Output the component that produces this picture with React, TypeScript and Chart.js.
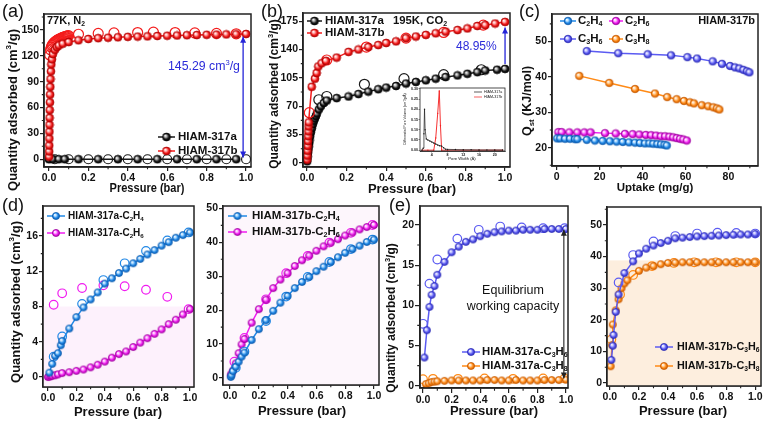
import React, { useEffect, useRef } from "react";
import { Chart, registerables } from "chart.js";
Chart.register(...registerables);

const FONT = '"Liberation Sans", Arial, Helvetica, sans-serif';

// ---------------- tick labels ----------------
const pressureTicks = [0, 0.2, 0.4, 0.6, 0.8, 1.0];
const aYTicks = [0, 30, 60, 90, 120, 150];
const bYTicks = [0, 35, 70, 105, 140, 175];
const cXTicks = [0, 20, 40, 60, 80];
const cYTicks = [20, 30, 40, 50];
const dLYTicks = [0, 4, 8, 12, 16];
const dRYTicks = [0, 10, 20, 30, 40, 50];
const eLYTicks = [0, 5, 10, 15, 20];
const eRYTicks = [0, 10, 20, 30, 40, 50];
const insetXTicks = [4, 8, 12, 16, 20];
const insetYTicks = [0, 0.05, 0.1, 0.15, 0.2, 0.25, 0.3];

// ---------------- (a) 77K N2 ----------------
const aBAdsX = [0.0005, 0.001, 0.0015, 0.002, 0.0025, 0.003, 0.0035, 0.004, 0.005, 0.006, 0.007, 0.008, 0.01, 0.012, 0.015, 0.02, 0.03, 0.04, 0.05, 0.07, 0.1, 0.15, 0.2, 0.25, 0.3, 0.35, 0.4, 0.45, 0.5, 0.55, 0.6, 0.65, 0.7, 0.75, 0.8, 0.85, 0.9, 0.95, 1.0];
const aBAdsY = [3, 9, 16, 24, 32, 40, 48, 57, 66, 75, 84, 93, 102, 110, 116, 122, 127, 130, 132, 134, 136, 138, 139.5, 140.5, 141, 141.5, 142, 142.3, 142.6, 143, 143.3, 143.6, 143.9, 144.1, 144.4, 144.6, 144.8, 145, 145.3];
const aBDesX = [0.004, 0.008, 0.012, 0.016, 0.02, 0.025, 0.03, 0.035, 0.04, 0.045, 0.05, 0.055, 0.06, 0.065, 0.07, 0.075, 0.08, 0.085, 0.09, 0.095, 0.1, 0.15, 0.25, 0.33, 0.45, 0.53, 0.64, 0.74, 0.85, 0.95];
const aBDesY = [121, 127, 130, 132, 133.5, 135, 136, 137, 137.8, 138.5, 139.2, 139.8, 140.3, 140.8, 141.3, 141.7, 142.1, 142.5, 142.8, 143.1, 143.4, 145, 146, 146.5, 147, 147.5, 147, 146.5, 146, 145.5];
const aAAdsX = [0, 0.02, 0.05, 0.08, 0.15, 0.25, 0.35, 0.45, 0.55, 0.65, 0.75, 0.85, 0.95];
const aAAdsY = [0, 0, 0, 0, 0, 0, 0, 0, 0, 0, 0, 0, 0];
const aADesX = [0.03, 0.1, 0.2, 0.3, 0.4, 0.5, 0.6, 0.7, 0.8, 0.9, 1.0];
const aADesY = [0, 0, 0, 0, 0, 0, 0, 0, 0, 0, 0];

// ---------------- (b) 195K CO2 ----------------
const bBAdsX = [0.001, 0.002, 0.003, 0.004, 0.005, 0.006, 0.007, 0.008, 0.009, 0.024, 0.04, 0.049, 0.057, 0.074, 0.096, 0.15, 0.21, 0.26, 0.31, 0.36, 0.4, 0.45, 0.5, 0.55, 0.6, 0.65, 0.7, 0.76, 0.81, 0.86, 0.9, 0.95, 1.0];
const bBAdsY = [4, 9, 15, 21, 27, 33, 39, 45, 50, 94, 104, 111, 119, 123, 126, 130, 137, 140, 143, 145.5, 148, 150, 154, 156, 158, 160, 162, 164, 166, 169, 170, 172, 174];
const bBDesX = [0.012, 0.1, 0.3, 0.5, 0.69, 0.89];
const bBDesY = [62, 127, 143, 154, 161, 170];
const bAAdsX = [0.001, 0.002, 0.003, 0.005, 0.007, 0.009, 0.011, 0.013, 0.016, 0.02, 0.025, 0.03, 0.035, 0.04, 0.045, 0.05, 0.06, 0.07, 0.085, 0.1, 0.15, 0.21, 0.26, 0.31, 0.36, 0.4, 0.45, 0.5, 0.55, 0.6, 0.65, 0.7, 0.76, 0.81, 0.86, 0.9, 0.96, 1.0];
const bAAdsY = [2, 5, 8, 12, 16, 20, 24, 28, 33, 38, 43, 48, 52, 55, 58, 61, 66, 70, 74, 77, 80, 82, 85, 88, 91, 93, 95, 98, 100, 102, 104, 106, 108, 110, 112, 114, 115, 116];
const bADesX = [0.06, 0.1, 0.29, 0.49, 0.69, 0.88];
const bADesY = [78, 82, 97, 104, 109, 115];
// inset pore size distribution
const insAX = [1.5, 1.8, 2.0, 2.15, 2.3, 2.6, 3.0, 3.5, 4.0, 4.5, 5.0, 5.5, 6.0, 6.5, 7.0, 7.5, 8.0, 10, 12, 14, 16, 18, 20, 22];
const insAY = [0.0, 0.01, 0.08, 0.2, 0.1, 0.055, 0.05, 0.045, 0.04, 0.035, 0.03, 0.025, 0.022, 0.02, 0.012, 0.005, 0.004, 0.003, 0.002, 0.002, 0.001, 0.001, 0.001, 0.001];
const insBX = [1.5, 3.0, 4.5, 5.0, 5.5, 5.9, 6.2, 6.5, 8.0, 12, 16, 20, 22];
const insBY = [0, 0, 0, 0.06, 0.18, 0.29, 0.12, 0, 0, 0, 0, 0, 0];

// ---------------- (c) Qst ----------------
const cC2H4X = [0.2, 1.6, 3.9, 6.2, 8.5, 9.6, 14.0, 17.8, 21.4, 24.8, 27.9, 30.8, 33.7, 36.5, 38.8, 41.1, 43.2, 45.0, 46.9, 48.6, 50.2, 51.3];
const cC2H4Y = [22.6, 22.6, 22.5, 22.5, 22.4, 22.4, 22.2, 22.0, 21.9, 21.8, 21.7, 21.6, 21.5, 21.4, 21.3, 21.2, 21.2, 21.1, 21.0, 20.9, 20.8, 20.6];
const cC2H6X = [0.8, 2.3, 5.9, 9.6, 12.9, 15.8, 22.5, 27.5, 31.8, 35.4, 38.5, 41.5, 44.0, 46.3, 48.5, 50.5, 52.5, 54.3, 55.9, 57.5, 59.0, 60.6];
const cC2H6Y = [24.4, 24.4, 24.3, 24.3, 24.3, 24.3, 24.1, 24.0, 23.9, 23.8, 23.7, 23.6, 23.5, 23.4, 23.2, 23.2, 23.1, 22.9, 22.7, 22.5, 22.3, 22.0];
const cC3H6X = [14.0, 28.7, 42.4, 53.3, 60.9, 65.4, 72.7, 77.0, 80.8, 83.1, 85.1, 87.0, 88.6, 89.8];
const cC3H6Y = [47.3, 46.7, 46.4, 46.1, 45.6, 45.2, 44.4, 43.7, 43.1, 42.7, 42.4, 42.0, 41.6, 41.3];
const cC3H8X = [10.5, 24.5, 36.5, 45.8, 51.5, 55.9, 59.3, 62.1, 64.0, 67.6, 70.6, 73.0, 74.6, 75.8];
const cC3H8Y = [40.3, 38.3, 36.6, 35.3, 34.3, 33.7, 33.2, 32.8, 32.5, 32.0, 31.7, 31.4, 31.1, 30.8];

// ---------------- (d) HIAM-317a / 317b C2 ----------------
const dLC2H4X = [0.01, 0.03, 0.05, 0.07, 0.09, 0.1, 0.15, 0.2, 0.25, 0.3, 0.35, 0.4, 0.45, 0.5, 0.55, 0.6, 0.65, 0.7, 0.75, 0.8, 0.85, 0.9, 0.95, 1.0];
const dLC2H4Y = [0.5, 1.5, 2.4, 2.7, 3.6, 4.1, 5.5, 6.8, 7.9, 8.8, 9.6, 10.6, 11.2, 11.8, 12.3, 12.9, 13.4, 13.9, 14.4, 14.9, 15.3, 15.8, 16.1, 16.4];
const dLC2H4DesX = [0.04, 0.1, 0.24, 0.39, 0.54, 0.69, 0.84, 0.99];
const dLC2H4DesY = [2.3, 4.6, 8.3, 11.0, 12.9, 14.3, 15.5, 16.4];
const dLC2H6X = [0.0, 0.01, 0.02, 0.03, 0.05, 0.07, 0.1, 0.15, 0.2, 0.25, 0.3, 0.35, 0.4, 0.45, 0.5, 0.55, 0.6, 0.65, 0.7, 0.75, 0.8, 0.85, 0.9, 0.95, 1.0];
const dLC2H6Y = [0, 0.05, 0.1, 0.15, 0.2, 0.3, 0.45, 0.55, 0.7, 0.85, 1.1, 1.4, 1.75, 2.2, 2.6, 2.9, 3.4, 3.9, 4.4, 4.9, 5.4, 6.0, 6.5, 7.1, 7.7];
const dLC2H6DesX = [0.04, 0.1, 0.24, 0.39, 0.54, 0.69, 0.84, 0.99];
const dLC2H6DesY = [8.2, 9.5, 10.1, 10.4, 10.3, 9.9, 9.1, 7.7];

const dRC2H4X = [0.005, 0.01, 0.02, 0.04, 0.06, 0.08, 0.1, 0.15, 0.2, 0.25, 0.3, 0.35, 0.4, 0.45, 0.5, 0.55, 0.6, 0.65, 0.7, 0.75, 0.8, 0.85, 0.9, 0.95, 1.0];
const dRC2H4Y = [0.3, 0.8, 2, 3.3, 4.8, 6.3, 7.5, 11.2, 14.4, 17, 19.8, 22.2, 24.2, 26.5, 28.3, 29.8, 31.5, 32.8, 34.2, 35.6, 36.9, 38, 39, 40.1, 40.8];
const dRC2H4DesX = [0.04, 0.1, 0.25, 0.39, 0.54, 0.69, 0.84, 0.99];
const dRC2H4DesY = [3.0, 7.8, 16.8, 24, 29.8, 34.2, 38, 40.8];
const dRC2H6X = [0.005, 0.01, 0.02, 0.04, 0.06, 0.08, 0.1, 0.15, 0.2, 0.25, 0.3, 0.35, 0.4, 0.45, 0.5, 0.55, 0.6, 0.65, 0.7, 0.75, 0.8, 0.85, 0.9, 0.95, 1.0];
const dRC2H6Y = [0.8, 1.3, 2.2, 4.3, 7.3, 9.9, 11.5, 16.3, 20.3, 23.1, 26.5, 29.0, 30.9, 33.0, 34.7, 36.1, 37.5, 38.8, 39.9, 40.9, 42.0, 42.9, 43.8, 44.5, 45.1];
const dRC2H6DesX = [0.03, 0.1, 0.25, 0.39, 0.54, 0.69, 0.84, 0.99];
const dRC2H6DesY = [4.8, 11.8, 23.2, 30.9, 36.0, 39.9, 42.8, 45.1];

// ---------------- (e) C3 ----------------
const eLC3H6X = [0.01, 0.027, 0.045, 0.06, 0.08, 0.1, 0.15, 0.2, 0.25, 0.3, 0.35, 0.4, 0.45, 0.5, 0.55, 0.6, 0.65, 0.7, 0.75, 0.8, 0.85, 0.9, 0.95, 1.0];
const eLC3H6Y = [3.5, 6.9, 9.8, 11.3, 12.4, 13.8, 15.4, 16.6, 17.3, 17.9, 18.2, 18.6, 18.9, 19.1, 19.2, 19.3, 19.3, 19.4, 19.4, 19.4, 19.5, 19.5, 19.5, 19.5];
const eLC3H6DesX = [0.0, 0.045, 0.1, 0.24, 0.39, 0.54, 0.69, 0.84, 0.99];
const eLC3H6DesY = [7.7, 12.7, 15.7, 18.3, 19.4, 19.8, 19.7, 19.6, 19.6];
const eLC3H8X = [0.02, 0.04, 0.06, 0.08, 0.1, 0.15, 0.2, 0.25, 0.3, 0.35, 0.4, 0.45, 0.5, 0.55, 0.6, 0.65, 0.7, 0.75, 0.8, 0.85, 0.9, 0.95, 1.0];
const eLC3H8Y = [0.2, 0.3, 0.45, 0.5, 0.55, 0.6, 0.65, 0.65, 0.65, 0.65, 0.65, 0.7, 0.7, 0.65, 0.65, 0.7, 0.65, 0.65, 0.65, 0.7, 0.7, 0.7, 0.75];
const eLC3H8DesX = [0.0, 0.07, 0.245, 0.43, 0.63, 0.84, 0.99];
const eLC3H8DesY = [0.8, 0.85, 0.85, 0.9, 0.85, 0.9, 0.9];

const eRC3H6X = [0.01, 0.02, 0.025, 0.04, 0.06, 0.1, 0.16, 0.2, 0.25, 0.3, 0.35, 0.4, 0.45, 0.5, 0.55, 0.6, 0.65, 0.7, 0.75, 0.8, 0.85, 0.9, 0.95, 1.0];
const eRC3H6Y = [7.3, 11.8, 15.2, 22.5, 28, 34.8, 38.5, 41, 42.5, 43.5, 44.3, 45, 45.8, 46, 46.2, 46.4, 46.5, 46.6, 46.7, 46.8, 46.9, 47, 47, 47.2];
const eRC3H6DesX = [0.06, 0.16, 0.3, 0.45, 0.6, 0.74, 0.87, 1.0];
const eRC3H6DesY = [31.8, 40.5, 44.8, 46.5, 47.3, 47.6, 47.5, 47.3];
const eRC3H8X = [0.005, 0.015, 0.02, 0.04, 0.06, 0.08, 0.1, 0.12, 0.2, 0.25, 0.3, 0.35, 0.4, 0.45, 0.5, 0.55, 0.6, 0.65, 0.7, 0.75, 0.8, 0.85, 0.9, 0.95, 1.0];
const eRC3H8Y = [5.3, 12, 18.5, 23, 26.5, 30, 31.5, 32.5, 35.5, 36.5, 37, 37.6, 38, 38.1, 38.2, 38.2, 38.2, 38.2, 38.2, 38.2, 38.2, 38.2, 38.2, 38.2, 38.2];
const eRC3H8DesX = [0.01, 0.07, 0.16, 0.29, 0.44, 0.58, 0.73, 0.87, 1.0];
const eRC3H8DesY = [13.8, 28, 34.2, 37, 38, 38.2, 38.2, 38.2, 38.2];

// ---------------- styling helpers ----------------
const COL: any = {
  red: { m: "#f41c1c", l: "#ffb4b4", d: "#b00000" },
  blk: { m: "#1a1a1a", l: "#b0b0b0", d: "#000000" },
  blu: { m: "#2188e6", l: "#b0dcff", d: "#0b5cb0" },
  mag: { m: "#f01cf0", l: "#ffb8ff", d: "#a000a0" },
  pur: { m: "#5b5bf2", l: "#c8c8ff", d: "#2b2bb8" },
  ora: { m: "#ff8a16", l: "#ffd6a8", d: "#c85a00" },
};

const sphereCache: any = {};
function sphere(c: string, r: number) {
  const key = c + r;
  if (sphereCache[key]) return sphereCache[key];
  const col = COL[c];
  const s = Math.ceil(2 * r + 2);
  const cv = document.createElement("canvas");
  cv.width = s;
  cv.height = s;
  const g = cv.getContext("2d")!;
  const cx = s / 2, cy = s / 2;
  const grad = g.createRadialGradient(cx - r * 0.35, cy - r * 0.35, r * 0.05, cx, cy, r);
  grad.addColorStop(0, "#ffffff");
  grad.addColorStop(0.3, col.l);
  grad.addColorStop(0.65, col.m);
  grad.addColorStop(1, col.d);
  g.fillStyle = grad;
  g.beginPath();
  g.arc(cx, cy, r, 0, Math.PI * 2);
  g.fill();
  g.lineWidth = 0.7;
  g.strokeStyle = col.d;
  g.stroke();
  sphereCache[key] = cv;
  return cv;
}

function parseRich(str: string) {
  const segs: any[] = [];
  let i = 0, cur = "";
  while (i < str.length) {
    const ch = str[i];
    if (ch === "_" || ch === "^") {
      if (cur) { segs.push({ t: cur, k: 0 }); cur = ""; }
      let t = "";
      if (str[i + 1] === "{") { const j = str.indexOf("}", i + 2); t = str.slice(i + 2, j); i = j + 1; }
      else { t = str[i + 1]; i += 2; }
      segs.push({ t, k: ch === "_" ? 1 : 2 });
    } else { cur += ch; i++; }
  }
  if (cur) segs.push({ t: cur, k: 0 });
  return segs;
}

function drawRich(ctx: any, str: string, x: number, y: number, o: any) {
  const segs = parseRich(str);
  const f = (sz: number) => `${o.bold ? "bold " : ""}${sz}px ${FONT}`;
  const ss = o.size * 0.62;
  let w = 0;
  for (const s of segs) { ctx.font = f(s.k ? ss : o.size); w += ctx.measureText(s.t).width; }
  ctx.save();
  ctx.translate(x, y);
  if (o.rot) ctx.rotate(-Math.PI / 2);
  ctx.scale(o.sx || 1, 1);
  let cx = o.align === "center" ? -w / 2 : o.align === "right" ? -w : 0;
  ctx.fillStyle = o.color || "#111";
  ctx.textBaseline = "middle";
  ctx.textAlign = "left";
  for (const s of segs) {
    ctx.font = f(s.k ? ss : o.size);
    const dy = s.k === 1 ? o.size * 0.3 : s.k === 2 ? -o.size * 0.33 : 0;
    ctx.fillText(s.t, cx, dy);
    cx += ctx.measureText(s.t).width;
  }
  ctx.restore();
}

function arrowV(ctx: any, x: number, yFrom: number, yTo: number, color: string, both: boolean, lw = 1.3) {
  const hl = 6, hw = 3;
  ctx.save();
  ctx.strokeStyle = color;
  ctx.fillStyle = color;
  ctx.lineWidth = lw;
  ctx.beginPath();
  ctx.moveTo(x, yFrom);
  ctx.lineTo(x, yTo);
  ctx.stroke();
  const head = (yt: number, dir: number) => {
    ctx.beginPath();
    ctx.moveTo(x, yt);
    ctx.lineTo(x - hw, yt - dir * hl);
    ctx.lineTo(x + hw, yt - dir * hl);
    ctx.closePath();
    ctx.fill();
  };
  const dir = yTo < yFrom ? -1 : 1;
  head(yTo, dir);
  if (both) head(yFrom, -dir);
  ctx.restore();
}

function legendRow(ctx: any, x1: number, x2: number, y: number, c: string, r: number, text: string, tx: number, size: number, bold = true, lw = 1.5) {
  ctx.save();
  ctx.strokeStyle = COL[c].m;
  ctx.lineWidth = lw;
  ctx.beginPath();
  ctx.moveTo(x1, y);
  ctx.lineTo(x2, y);
  ctx.stroke();
  if (r > 0) {
    const sp = sphere(c, r);
    ctx.drawImage(sp, (x1 + x2) / 2 - sp.width / 2, y - sp.height / 2);
  }
  ctx.restore();
  drawRich(ctx, text, tx, y, { size, bold, color: "#111" });
}

const f1 = (v: number) => v.toFixed(1);
const f0 = (v: number) => String(Math.round(v));
const f2 = (v: number) => v.toFixed(2);

function S(x: number[], y: number[], c: string, open = false, r?: number, line?: boolean, lw?: number) {
  return { x, y, c, open, r, line, lw };
}

function buildChart(canvas: HTMLCanvasElement, cfg: any) {
  const [cl, ct, cw, ch] = cfg.cv;
  const [pl, pt, pr, pb] = cfg.pl;
  const tf = cfg.tf || 10.5;
  const tickLen = cfg.tl || 4;
  const datasets = cfg.series.map((s: any) => {
    const data = s.x.map((x: number, i: number) => ({ x, y: s.y[i] }));
    const col = COL[s.c];
    if (s.open) {
      return {
        data, showLine: false, pointStyle: "circle", pointRadius: s.r || 4.5,
        pointBorderColor: col.m, pointBackgroundColor: "rgba(255,255,255,0)", pointBorderWidth: 1.2,
        borderColor: col.m, backgroundColor: "rgba(0,0,0,0)",
      };
    }
    const r = s.r || 4;
    return {
      data, showLine: s.line !== false, borderColor: col.m, borderWidth: s.lw || 1.5,
      backgroundColor: col.m,
      pointStyle: r < 1.5 ? "circle" : sphere(s.c, r), pointRadius: r,
      pointBackgroundColor: col.m, pointBorderColor: col.m, pointBorderWidth: 0,
      tension: 0,
    };
  });
  const axis = (isX: boolean) => ({
    type: "linear",
    min: isX ? cfg.xr[0] : cfg.yr[0],
    max: isX ? cfg.xr[1] : cfg.yr[1],
    afterFit: (s: any) => { if (isX) s.height = ct + ch - pb; else s.width = pl - cl; },
    afterBuildTicks: (s: any) => { s.ticks = (isX ? cfg.xt : cfg.yt).map((v: number) => ({ value: v })); },
    grid: { display: true, drawOnChartArea: false, drawTicks: true, tickLength: tickLen, color: "#222", lineWidth: cfg.tw || 1.2 },
    border: { display: true, color: "#222", width: cfg.bw || 1.5 },
    ticks: {
      font: { family: FONT, size: tf, weight: "bold" }, color: "#111",
      padding: cfg.tp === undefined ? 1 : cfg.tp, maxRotation: 0, minRotation: 0, autoSkip: false,
      callback: (v: number) => (isX ? cfg.xf : cfg.yf)(v),
    },
  });
  const plugin = {
    id: "deco",
    beforeDatasetsDraw(chart: any) {
      const ctx = chart.ctx;
      const a = chart.chartArea;
      const Y = (v: number) => chart.scales.y.getPixelForValue(v);
      ctx.save();
      if (cfg.bg) { ctx.fillStyle = cfg.bg; ctx.fillRect(a.left, a.top, a.right - a.left, a.bottom - a.top); }
      if (cfg.shade) {
        const yy = Y(cfg.shade.to);
        ctx.fillStyle = cfg.shade.color;
        ctx.fillRect(a.left, yy, a.right - a.left, a.bottom - yy);
      }
      ctx.restore();
    },
    afterDraw(chart: any) {
      const ctx = chart.ctx;
      const a = chart.chartArea;
      const xs = chart.scales.x, ys = chart.scales.y;
      ctx.save();
      // frame
      ctx.strokeStyle = "#222";
      ctx.lineWidth = cfg.bw || 1.5;
      ctx.strokeRect(a.left, a.top, a.right - a.left, a.bottom - a.top);
      // minor ticks
      if (cfg.minor !== false) {
        ctx.lineWidth = cfg.tw || 1.1;
        const ml = tickLen * 0.55;
        const minors = (t: number[], lo: number, hi: number) => {
          const out: number[] = [];
          const st = t[1] - t[0];
          for (let v = t[0] - st / 2; v <= hi + 1e-9; v += st) if (v >= lo) out.push(v);
          return out.filter((v) => t.every((m) => Math.abs(m - v) > st * 0.1));
        };
        ctx.beginPath();
        for (const v of minors(cfg.xt, cfg.xr[0], cfg.xr[1])) {
          const px = xs.getPixelForValue(v);
          ctx.moveTo(px, a.bottom);
          ctx.lineTo(px, a.bottom + ml);
        }
        for (const v of minors(cfg.yt, cfg.yr[0], cfg.yr[1])) {
          const py = ys.getPixelForValue(v);
          ctx.moveTo(a.left, py);
          ctx.lineTo(a.left - ml, py);
        }
        ctx.stroke();
      }
      // decorations in absolute page coords
      ctx.translate(-cl, -ct);
      const P = {
        X: (v: number) => xs.getPixelForValue(v) + cl,
        Y: (v: number) => ys.getPixelForValue(v) + ct,
      };
      cfg.deco(ctx, P);
      ctx.restore();
    },
  };
  return new Chart(canvas, {
    type: "scatter",
    data: { datasets },
    options: {
      responsive: false, maintainAspectRatio: false, animation: false, devicePixelRatio: 1,
      events: [],
      layout: { padding: { left: 0, top: pt - ct, right: cl + cw - pr, bottom: 0 } },
      plugins: { legend: { display: false }, tooltip: { enabled: false }, title: { display: false } },
      scales: { x: axis(true), y: axis(false) },
    } as any,
    plugins: [plugin],
  } as any);
}

const QA = "Quantity adsorbed (cm^3/g)";

const PANELS: any[] = [
  // (a)
  {
    cv: [0, 0, 262, 200], pl: [44, 14, 251, 167],
    xr: [-0.025, 1.025], yr: [-9, 168.5], xt: pressureTicks, yt: aYTicks, xf: f1, yf: f0,
    series: [
      S(aBAdsX, aBAdsY, "red", false, 4),
      S(aBDesX, aBDesY, "red", true, 5),
      S(aAAdsX, aAAdsY, "blk", false, 4),
      S(aADesX, aADesY, "blk", true, 4.5),
    ],
    deco: (ctx: any, P: any) => {
      drawRich(ctx, QA, 13, 110, { size: 13, bold: true, rot: true, align: "center" });
      drawRich(ctx, "Pressure (bar)", 147, 189, { size: 12, bold: true, align: "center", sx: 0.92 });
      drawRich(ctx, "77K, N_2", 47, 21, { size: 11, bold: true });
      arrowV(ctx, P.X(0.985), P.Y(2), P.Y(142), "#2424d8", true);
      drawRich(ctx, "145.29 cm^3/g", 168, 67, { size: 12.3, color: "#2b2bd9" });
      legendRow(ctx, 158, 175, 137, "blk", 4, "HIAM-317a", 178, 11.5);
      legendRow(ctx, 158, 175, 151, "red", 4, "HIAM-317b", 178, 11.5);
    },
  },
  // (b)
  {
    cv: [250, 0, 272, 200], pl: [303, 13, 510, 167],
    xr: [-0.02, 1.025], yr: [-5, 185], xt: pressureTicks, yt: bYTicks, xf: f1, yf: f0,
    series: [
      S(bBAdsX, bBAdsY, "red", false, 4),
      S(bBDesX, bBDesY, "red", true, 5),
      S(bAAdsX, bAAdsY, "blk", false, 4),
      S(bADesX, bADesY, "blk", true, 5),
    ],
    deco: (ctx: any, P: any) => {
      drawRich(ctx, QA, 275, 94, { size: 12, bold: true, rot: true, align: "center" });
      drawRich(ctx, "Pressure (bar)", 412, 189, { size: 13, bold: true, align: "center" });
      legendRow(ctx, 307, 322, 21, "blk", 4, "HIAM-317a", 325, 11.5);
      legendRow(ctx, 307, 322, 33, "red", 4, "HIAM-317b", 325, 11.5);
      drawRich(ctx, "195K, CO_2", 393, 21, { size: 11.3, bold: true });
      arrowV(ctx, P.X(1.0), P.Y(122), P.Y(167), "#2424d8", false);
      drawRich(ctx, "48.95%", 456, 47, { size: 12, color: "#2b2bd9" });
    },
  },
  // (c)
  {
    cv: [505, 0, 270, 200], pl: [552, 14, 758, 166],
    xr: [-2.2, 93.8], yr: [14.8, 57.8], xt: cXTicks, yt: cYTicks, xf: f0, yf: f0,
    series: [
      S(cC2H4X, cC2H4Y, "blu", false, 3.8),
      S(cC2H6X, cC2H6Y, "mag", false, 3.8),
      S(cC3H6X, cC3H6Y, "pur", false, 3.8),
      S(cC3H8X, cC3H8Y, "ora", false, 3.8),
    ],
    deco: (ctx: any, P: any) => {
      drawRich(ctx, "Q_{st} (KJ/mol)", 528, 101, { size: 12.5, bold: true, rot: true, align: "center" });
      drawRich(ctx, "Uptake (mg/g)", 655, 188, { size: 11.5, bold: true, align: "center" });
      legendRow(ctx, 560, 576, 21, "blu", 3.8, "C_2H_4", 578, 11.5, true);
      legendRow(ctx, 609, 623, 21, "mag", 3.8, "C_2H_6", 625, 11.5, true);
      legendRow(ctx, 560, 576, 39, "pur", 3.8, "C_3H_6", 578, 11.5, true);
      legendRow(ctx, 609, 623, 39, "ora", 3.8, "C_3H_8", 625, 11.5, true);
      drawRich(ctx, "HIAM-317b", 755, 21, { size: 11, bold: true, align: "right" });
    },
  },
  // (d) left
  {
    cv: [0, 195, 206, 226], pl: [43, 206, 194, 387],
    xr: [-0.035, 1.028], yr: [-1.13, 19.4], xt: pressureTicks, yt: dLYTicks, xf: f1, yf: f0,
    shade: { to: 8, color: "#fdf1fc" },
    series: [
      S(dLC2H4X, dLC2H4Y, "blu", false, 3.6),
      S(dLC2H4DesX, dLC2H4DesY, "blu", true, 4.3),
      S(dLC2H6X, dLC2H6Y, "mag", false, 3.6),
      S(dLC2H6DesX, dLC2H6DesY, "mag", true, 4.3),
    ],
    deco: (ctx: any) => {
      drawRich(ctx, QA, 16, 302, { size: 13, bold: true, rot: true, align: "center" });
      drawRich(ctx, "Pressure (bar)", 118, 412, { size: 13, bold: true, align: "center" });
      legendRow(ctx, 47, 65, 216, "blu", 3.6, "HIAM-317a-C_2H_4", 68, 10);
      legendRow(ctx, 47, 65, 233, "mag", 3.6, "HIAM-317a-C_2H_6", 68, 10);
    },
  },
  // (d) right
  {
    cv: [196, 195, 194, 226], pl: [223, 206, 379, 385],
    xr: [-0.049, 1.035], yr: [-2.06, 50.7], xt: pressureTicks, yt: dRYTicks, xf: f1, yf: f0,
    bg: "#fdf6fc",
    series: [
      S(dRC2H4X, dRC2H4Y, "blu", false, 3.6),
      S(dRC2H4DesX, dRC2H4DesY, "blu", true, 4.3),
      S(dRC2H6X, dRC2H6Y, "mag", false, 3.6),
      S(dRC2H6DesX, dRC2H6DesY, "mag", true, 4.3),
    ],
    deco: (ctx: any) => {
      drawRich(ctx, "Pressure (bar)", 302, 411, { size: 13, bold: true, align: "center" });
      legendRow(ctx, 228, 247, 216, "blu", 3.6, "HIAM-317b-C_2H_4", 252, 11.5);
      legendRow(ctx, 228, 247, 232, "mag", 3.6, "HIAM-317b-C_2H_6", 252, 11.5);
    },
  },
  // (e) left
  {
    cv: [382, 195, 198, 226], pl: [420, 206, 568, 388],
    xr: [-0.021, 1.014], yr: [-0.29, 22.36], xt: pressureTicks, yt: eLYTicks, xf: f1, yf: f0,
    tl: 5,
    series: [
      S(eLC3H6X, eLC3H6Y, "pur", false, 3.6),
      S(eLC3H6DesX, eLC3H6DesY, "pur", true, 4.3),
      S(eLC3H8X, eLC3H8Y, "ora", false, 3.6),
      S(eLC3H8DesX, eLC3H8DesY, "ora", true, 4.3),
    ],
    deco: (ctx: any, P: any) => {
      drawRich(ctx, QA, 392, 318, { size: 12, bold: true, rot: true, align: "center" });
      drawRich(ctx, "Pressure (bar)", 494, 411, { size: 13, bold: true, align: "center" });
      drawRich(ctx, "Equilibrium", 513, 291, { size: 12.5, align: "center" });
      drawRich(ctx, "working capacity", 513, 307, { size: 12.5, align: "center" });
      arrowV(ctx, P.X(0.985), P.Y(0.9), P.Y(19.4), "#222", true, 1.1);
      legendRow(ctx, 462, 480, 352, "pur", 3.6, "HIAM-317a-C_3H_6", 482, 11.3);
      legendRow(ctx, 462, 480, 366, "ora", 3.6, "HIAM-317a-C_3H_8", 482, 11.3);
    },
  },
  // (e) right
  {
    cv: [585, 195, 190, 226], pl: [607, 207, 761, 386],
    xr: [-0.02, 1.04], yr: [-0.95, 55.7], xt: pressureTicks, yt: eRYTicks, xf: f1, yf: f0,
    shade: { to: 38.8, color: "#fdeede" },
    series: [
      S(eRC3H6X, eRC3H6Y, "pur", false, 3.6),
      S(eRC3H6DesX, eRC3H6DesY, "pur", true, 4.3),
      S(eRC3H8X, eRC3H8Y, "ora", false, 3.6),
      S(eRC3H8DesX, eRC3H8DesY, "ora", true, 4.3),
    ],
    deco: (ctx: any) => {
      drawRich(ctx, "Pressure (bar)", 683, 411, { size: 13, bold: true, align: "center" });
      legendRow(ctx, 655, 673, 347, "pur", 3.6, "HIAM-317b-C_3H_6", 677, 10.8);
      legendRow(ctx, 655, 673, 366, "ora", 3.6, "HIAM-317b-C_3H_8", 677, 10.8);
    },
  },
  // (b) inset
  {
    cv: [395, 82, 117, 82], pl: [420, 88, 505, 151],
    xr: [1, 22.6], yr: [-0.004, 0.304], xt: insetXTicks, yt: insetYTicks, xf: f0, yf: f2,
    tf: 3.6, tl: 1.5, tp: 0.5, bw: 0.8, tw: 0.5, minor: false, bg: "#ffffff",
    series: [
      S(insAX, insAY, "blk", false, 0.7, true, 0.7),
      S(insBX, insBY, "red", false, 0.7, true, 0.9),
    ],
    deco: (ctx: any) => {
      drawRich(ctx, "Differential Pore Volume (cm^3/g/Å)", 405, 119, { size: 3.4, rot: true, align: "center" });
      drawRich(ctx, "Pore Width (Å)", 462, 159, { size: 4.2, align: "center" });
      legendRow(ctx, 474, 482, 92, "blk", 0, "HIAM-317a", 484, 3.6, false, 0.7);
      legendRow(ctx, 474, 482, 97, "red", 0, "HIAM-317b", 484, 3.6, false, 0.7);
    },
  },
];

const LABELS = [
  { t: "(a)", x: 2, y: 1 },
  { t: "(b)", x: 261, y: 1 },
  { t: "(c)", x: 519, y: 1 },
  { t: "(d)", x: 2, y: 195 },
  { t: "(e)", x: 389, y: 195 },
];

export default function App() {
  const refs = useRef<(HTMLCanvasElement | null)[]>([]);
  useEffect(() => {
    const charts: any[] = [];
    PANELS.forEach((cfg, i) => {
      const cv = refs.current[i];
      if (cv) charts.push(buildChart(cv, cfg));
    });
    return () => charts.forEach((c) => c.destroy());
  }, []);
  return (
    <div style={{ position: "fixed", left: 0, top: 0, width: 764, height: 421, overflow: "hidden", background: "#fff" }}>
      {PANELS.map((p, i) => (
        <canvas
          key={i}
          ref={(el) => { refs.current[i] = el; }}
          width={p.cv[2]}
          height={p.cv[3]}
          style={{ position: "absolute", left: p.cv[0], top: p.cv[1], width: p.cv[2], height: p.cv[3] }}
        />
      ))}
      {LABELS.map((l, i) => (
        <div key={"l" + i} style={{ position: "absolute", left: l.x, top: l.y, fontFamily: FONT, fontSize: 18, lineHeight: "20px", color: "#111" }}>
          {l.t}
        </div>
      ))}
    </div>
  );
}
